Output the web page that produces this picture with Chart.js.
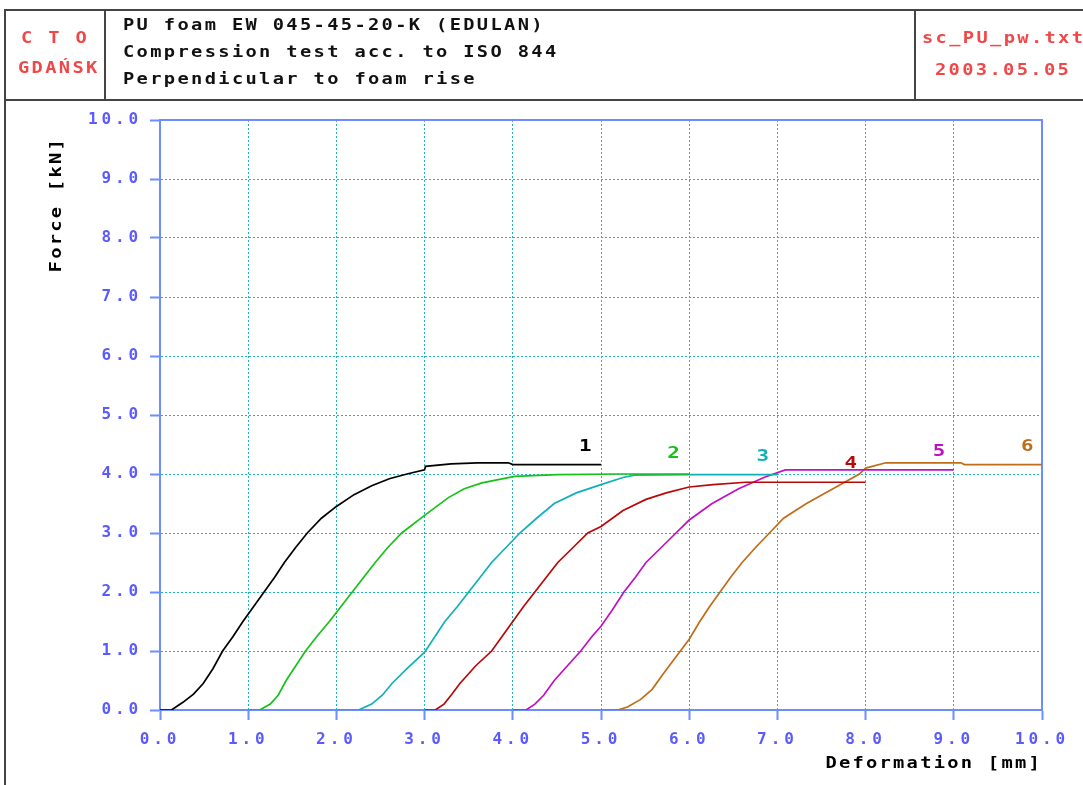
<!DOCTYPE html>
<html>
<head>
<meta charset="utf-8">
<script src="https://cdn.jsdelivr.net/npm/chart.js@4"></script>
<style>
    body { margin: 0; background: #fff; }
    #wrap { position: relative; width: 1083px; height: 785px; overflow: hidden; }
    canvas { position: absolute; left: 0; top: 0; }
    .ln { position: absolute; background: #444; }
    .txt {
        position: absolute; font-family: "DejaVu Sans Mono", monospace; font-weight: bold;
        font-size: 16px; line-height: 20px; letter-spacing: 2px; white-space: pre;
        transform: scaleX(1.17); transform-origin: 0 0; color: #111;
    }
    .red { color: #f04848; }
</style>
</head>
<body>
<div id="wrap">
    <canvas id="chart" width="1083" height="785"></canvas>
    <div class="ln" style="left:4px;top:9px;width:1090px;height:2px"></div>
    <div class="ln" style="left:4px;top:9px;width:2px;height:790px"></div>
    <div class="ln" style="left:4px;top:99px;width:1090px;height:2px"></div>
    <div class="ln" style="left:104px;top:9px;width:2px;height:91px"></div>
    <div class="ln" style="left:914px;top:9px;width:2px;height:91px"></div>
    <div class="txt red" style="left:21px;top:28px">C T O</div>
    <div class="txt red" style="left:18px;top:58px">GDAŃSK</div>
    <div class="txt" style="left:123px;top:15px">PU foam EW 045-45-20-K (EDULAN)</div>
    <div class="txt" style="left:123px;top:42px">Compression test acc. to ISO 844</div>
    <div class="txt" style="left:123px;top:69px">Perpendicular to foam rise</div>
    <div class="txt red" style="left:922px;top:28px">sc_PU_pw.txt</div>
    <div class="txt red" style="left:935px;top:60px">2003.05.05</div>
</div>
<script>
// deformation [mm] / force [kN], one pair of arrays per specimen
const x1 = [0, 0.13, 0.26, 0.38, 0.49, 0.6, 0.71, 0.83, 0.94, 1.06, 1.18, 1.3, 1.41, 1.54, 1.67, 1.83, 2.0, 2.2, 2.4, 2.6, 2.8, 3.0, 3.01, 3.3, 3.6, 3.95, 4.0, 5.0];
const y1 = [0, 0, 0.13, 0.27, 0.45, 0.7, 1.0, 1.25, 1.5, 1.75, 2.0, 2.25, 2.5, 2.76, 3.0, 3.25, 3.45, 3.65, 3.8, 3.92, 4.0, 4.07, 4.13, 4.17, 4.19, 4.19, 4.16, 4.16];

const x2 = [1.0, 1.13, 1.25, 1.34, 1.43, 1.54, 1.65, 1.78, 1.92, 2.05, 2.18, 2.31, 2.44, 2.58, 2.74, 3.0, 3.27, 3.45, 3.65, 4.02, 4.5, 5.2, 6.0];
const y2 = [0, 0, 0.1, 0.25, 0.5, 0.75, 1.0, 1.25, 1.5, 1.75, 2.0, 2.25, 2.5, 2.75, 3.0, 3.3, 3.6, 3.75, 3.85, 3.96, 3.99, 4.0, 4.0];

const x3 = [2.0, 2.25, 2.4, 2.52, 2.63, 2.8, 3.0, 3.12, 3.23, 3.37, 3.5, 3.63, 3.76, 3.92, 4.08, 4.27, 4.47, 4.72, 5.0, 5.25, 5.38, 6.0, 7.0];
const y3 = [0, 0, 0.1, 0.25, 0.45, 0.7, 0.98, 1.25, 1.5, 1.75, 2.0, 2.25, 2.5, 2.75, 3.0, 3.25, 3.5, 3.68, 3.82, 3.94, 3.98, 3.99, 3.99];

const x4 = [3.0, 3.12, 3.22, 3.3, 3.4, 3.58, 3.76, 3.88, 4.0, 4.12, 4.25, 4.38, 4.51, 4.68, 4.85, 5.0, 5.25, 5.51, 5.74, 6.0, 6.27, 6.64, 8.0];
const y4 = [0, 0, 0.1, 0.25, 0.45, 0.75, 1.0, 1.25, 1.5, 1.75, 2.0, 2.25, 2.5, 2.75, 3.0, 3.11, 3.38, 3.57, 3.68, 3.78, 3.82, 3.86, 3.86];

const x5 = [4.0, 4.15, 4.25, 4.35, 4.47, 4.62, 4.77, 4.9, 5.0, 5.13, 5.26, 5.39, 5.51, 5.68, 5.85, 6.0, 6.26, 6.56, 6.86, 7.09, 9.0];
const y5 = [0, 0, 0.1, 0.25, 0.5, 0.75, 1.0, 1.25, 1.42, 1.7, 2.0, 2.25, 2.5, 2.75, 3.0, 3.22, 3.5, 3.75, 3.95, 4.07, 4.07];

const x6 = [5.0, 5.19, 5.3, 5.45, 5.58, 5.7, 5.8, 5.9, 6.0, 6.12, 6.23, 6.35, 6.47, 6.6, 6.75, 6.91, 7.07, 7.33, 7.63, 7.93, 8.0, 8.23, 9.08, 9.12, 10.0];
const y6 = [0, 0, 0.05, 0.18, 0.35, 0.6, 0.8, 1.0, 1.2, 1.5, 1.75, 2.0, 2.25, 2.5, 2.75, 3.0, 3.25, 3.5, 3.75, 4.0, 4.1, 4.19, 4.19, 4.16, 4.16];

const curveNames = ["1", "2", "3", "4", "5", "6"];
const curveColors = ["#000000", "#18c018", "#10b0b8", "#b80808", "#c010c0", "#c06c18"];
// where the specimen numbers sit, in data units
const nameX = [4.8, 5.8, 6.81, 7.81, 8.81, 9.81];
const nameY = [4.46, 4.34, 4.29, 4.17, 4.37, 4.46];

const xTicks = [0, 1, 2, 3, 4, 5, 6, 7, 8, 9, 10];
const yTicks = [0, 1, 2, 3, 4, 5, 6, 7, 8, 9, 10];

const axisBlue = "#6c8cff";
const labelBlue = "#5a5aff";
const gridCyan = "#18b8bc";
const mono = "'DejaVu Sans Mono', monospace";

function zip(xs, ys) {
    return xs.map((x, i) => ({ x: x, y: ys[i] }));
}

const allX = [x1, x2, x3, x4, x5, x6];
const allY = [y1, y2, y3, y4, y5, y6];

const datasets = allX.map((xs, i) => ({
    label: curveNames[i],
    data: zip(xs, allY[i]),
    borderColor: curveColors[i],
    borderWidth: 1.7,
    pointRadius: 0,
    showLine: true,
    tension: 0,
    fill: false
}));

// wide letters like the old DOS plotter font
const spacingPlugin = {
    id: "spacing",
    beforeDraw(chart) {
        chart.ctx.letterSpacing = "3.9px";
    }
};

const framePlugin = {
    id: "frame",
    beforeDatasetsDraw(chart) {
        const a = chart.chartArea;
        const ctx = chart.ctx;
        ctx.save();
        ctx.strokeStyle = axisBlue;
        ctx.lineWidth = 2;
        ctx.strokeRect(a.left, a.top, a.right - a.left, a.bottom - a.top);
        ctx.restore();
    }
};

// text stretched sideways, drawn from a given anchor
function wideText(ctx, text, x, y, align, stretch) {
    ctx.save();
    ctx.translate(x, y);
    ctx.scale(stretch, 1);
    ctx.textAlign = align;
    ctx.fillText(text, 0, 0);
    ctx.restore();
}

const textPlugin = {
    id: "texts",
    afterDatasetsDraw(chart) {
        const ctx = chart.ctx;
        const xs = chart.scales.x;
        const ys = chart.scales.y;
        ctx.save();
        ctx.textBaseline = "middle";

        ctx.letterSpacing = "0px";
        ctx.font = "bold 16px " + mono;
        curveNames.forEach((n, i) => {
            ctx.fillStyle = curveColors[i];
            wideText(ctx, n, xs.getPixelForValue(nameX[i]) + 2, ys.getPixelForValue(nameY[i]), "center", 1.3);
        });

        ctx.fillStyle = "#000";
        ctx.font = "bold 15px " + mono;
        ctx.letterSpacing = "1.8px";
        wideText(ctx, "Deformation [mm]", chart.chartArea.right, 764, "right", 1.25);

        ctx.translate(57, 137);
        ctx.rotate(-Math.PI / 2);
        wideText(ctx, "Force [kN]", 0, 0, "right", 1.25);
        ctx.restore();
    }
};

const ctx = document.getElementById("chart").getContext("2d");
new Chart(ctx, {
    type: "scatter",
    data: { datasets: datasets },
    plugins: [spacingPlugin, framePlugin, textPlugin],
    options: {
        responsive: false,
        animation: false,
        events: [],
        layout: { padding: { left: 88, top: 120, right: 41, bottom: 0 } },
        plugins: {
            legend: { display: false },
            tooltip: { enabled: false }
        },
        scales: {
            x: {
                type: "linear",
                min: 0,
                max: 10,
                afterFit(scale) { scale.height = 75; },
                afterBuildTicks(scale) { scale.ticks = xTicks.map(v => ({ value: v })); },
                ticks: {
                    color: labelBlue,
                    font: { family: mono, size: 16, weight: "bold" },
                    padding: 10,
                    maxRotation: 0,
                    callback: v => v.toFixed(1)
                },
                grid: {
                    color: gridCyan,
                    lineWidth: 1,
                    tickColor: axisBlue,
                    tickLength: 10,
                    tickWidth: 2
                },
                border: { color: axisBlue, width: 2, dash: [2, 2] }
            },
            y: {
                type: "linear",
                min: 0,
                max: 10,
                afterFit(scale) { scale.width = 72; },
                afterBuildTicks(scale) { scale.ticks = yTicks.map(v => ({ value: v })); },
                ticks: {
                    color: labelBlue,
                    font: { family: mono, size: 16, weight: "bold" },
                    crossAlign: "far",
                    callback: v => v.toFixed(1).padStart(4, " ")
                },
                grid: {
                    color: gridCyan,
                    lineWidth: 1,
                    tickColor: axisBlue,
                    tickLength: 10,
                    tickWidth: 2
                },
                border: { color: axisBlue, width: 2, dash: [2, 2] }
            }
        }
    }
});
</script>
</body>
</html>
